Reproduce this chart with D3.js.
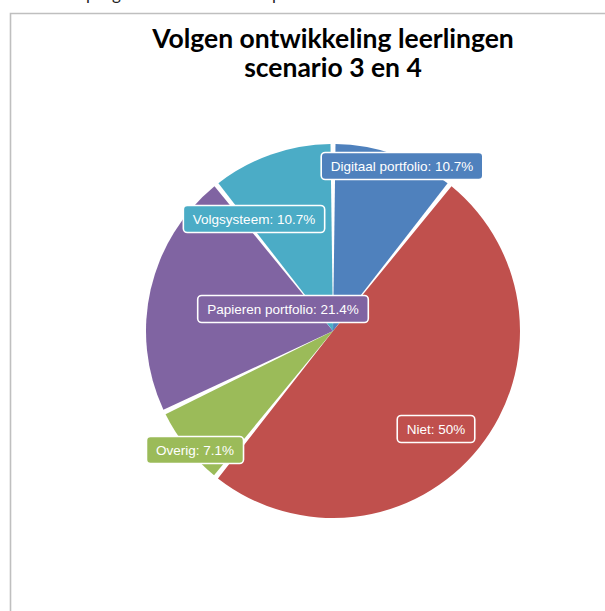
<!DOCTYPE html>
<html>
<head>
<meta charset="utf-8">
<script src="https://cdn.jsdelivr.net/npm/d3@7"></script>
<style>
  html, body { margin: 0; padding: 0; background: #fff; }
  svg { display: block; }
</style>
</head>
<body>
<script>
// Survey answers: how pupils' development is tracked (scenario 3 and 4)
const categories = ["Digitaal portfolio", "Niet", "Overig", "Papieren portfolio", "Volgsysteem"];
const percentages = [10.7, 50, 7.1, 21.4, 10.7];
const sliceColors = ["#4f81bd", "#c0504d", "#9bbb59", "#8064a2", "#4bacc6"];
const titleLines = ["Volgen ontwikkeling leerlingen", "scenario 3 en 4"];

// Label box anchors, as offsets from the pie centre
const labelOffsets = {
  "Digitaal portfolio": [69, -165],
  "Niet": [103, 98],
  "Overig": [-138, 119],
  "Papieren portfolio": [-50, -22],
  "Volgsysteem": [-79, -112]
};

const W = 605, H = 611;
const cx = 333, cy = 331, radius = 187;

const svg = d3.select("body").append("svg")
  .attr("width", W).attr("height", H);

// Descenders of the document line sitting just above the chart frame
const strayGlyphs = [["p", 86], ["g", 112], ["p", 272]];
svg.append("g").selectAll("text").data(strayGlyphs).join("text")
  .attr("x", d => d[1]).attr("y", 0)
  .attr("font-family", "Lato, 'Open Sans', sans-serif")
  .attr("font-size", 17).attr("fill", "#222")
  .text(d => d[0]);

// Chart frame (top and left edges visible)
svg.append("path")
  .attr("d", `M${W + 2},13.5 H10.5 V${H + 2}`)
  .attr("fill", "none").attr("stroke", "#bfbfbf").attr("stroke-width", 1.6);

// Title
svg.append("g").selectAll("text").data(titleLines).join("text")
  .attr("x", cx).attr("y", (d, i) => 48 + i * 29)
  .attr("text-anchor", "middle")
  .attr("font-family", "Lato, 'Open Sans', sans-serif")
  .attr("font-weight", 700).attr("font-size", 26.5).attr("fill", "#000")
  .text(d => d);

// Pie
const color = d3.scaleOrdinal().domain(categories).range(sliceColors);
const rows = categories.map((c, i) => ({ category: c, value: percentages[i] }));
const pie = d3.pie().sort(null).value(d => d.value);
const gap = 5;
const arc = d3.arc().innerRadius(0).outerRadius(radius)
  .padAngle(gap / radius).padRadius(radius);

const arcs = pie(rows);
const pieG = svg.append("g").attr("transform", `translate(${cx},${cy})`);
pieG.selectAll("path").data(arcs).join("path")
  .attr("d", arc)
  .attr("fill", d => color(d.data.category));

// Data labels in rounded boxes
const fmt = v => `${v}%`;
const labels = pieG.selectAll("g.label").data(arcs).join("g")
  .attr("class", "label")
  .attr("transform", d => {
    const o = labelOffsets[d.data.category];
    return `translate(${o[0]},${o[1]})`;
  });

labels.append("rect").attr("class", "box");
labels.append("text")
  .attr("text-anchor", "middle")
  .attr("dy", "0.36em")
  .attr("font-family", "'Liberation Sans', Arial, sans-serif")
  .attr("font-size", 13.5).attr("fill", "#fff")
  .text(d => `${d.data.category}: ${fmt(d.data.value)}`);

labels.each(function (d) {
  const g = d3.select(this);
  const w = g.select("text").node().getComputedTextLength();
  const padX = 9.5, h = 27;
  g.select("rect")
    .attr("x", -w / 2 - padX).attr("y", -h / 2)
    .attr("width", w + padX * 2).attr("height", h)
    .attr("rx", 4).attr("ry", 4)
    .attr("fill", color(d.data.category))
    .attr("stroke", "#fff").attr("stroke-width", 1.6);
});
</script>
</body>
</html>
